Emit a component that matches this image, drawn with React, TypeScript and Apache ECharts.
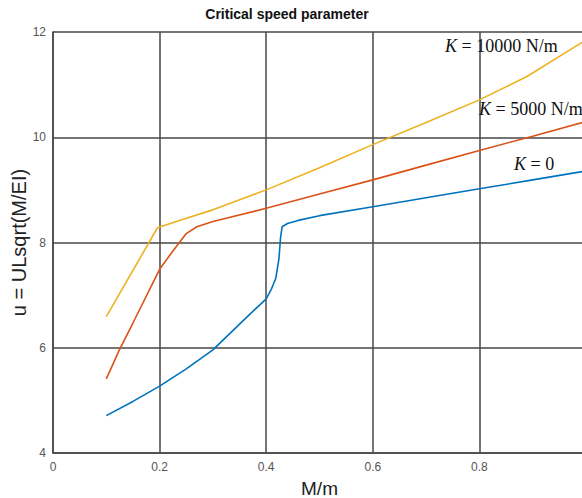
import React, { useEffect, useRef } from "react";
import * as echarts from "echarts";

// M/m values and critical speed parameter u for each stiffness K
const xK0 = [0.1, 0.15, 0.2, 0.25, 0.3, 0.35, 0.4, 0.41, 0.418, 0.424, 0.427, 0.43, 0.44, 0.46, 0.5, 0.6, 0.7, 0.8, 0.9, 1.0];
const yK0 = [4.71, 4.98, 5.27, 5.6, 5.96, 6.45, 6.93, 7.12, 7.32, 7.7, 8.1, 8.3, 8.36, 8.42, 8.51, 8.68, 8.85, 9.02, 9.19, 9.36];

const xK5000 = [0.1, 0.125, 0.15, 0.2, 0.225, 0.25, 0.27, 0.3, 0.4, 0.5, 0.6, 0.7, 0.8, 0.9, 1.0];
const yK5000 = [5.41, 5.97, 6.47, 7.49, 7.84, 8.17, 8.3, 8.4, 8.65, 8.92, 9.19, 9.47, 9.75, 10.02, 10.3];

const xK10000 = [0.1, 0.196, 0.25, 0.3, 0.4, 0.5, 0.6, 0.7, 0.8, 0.89, 1.0];
const yK10000 = [6.59, 8.28, 8.46, 8.62, 9.0, 9.42, 9.86, 10.28, 10.71, 11.16, 11.85];

const seriesNames = ["K = 0", "K = 5000 N/m", "K = 10000 N/m"];
const seriesColors = ["#0072BD", "#D95319", "#EDB120"];

const titleText = "Critical speed parameter";
const xName = "M/m";
const yName = "u = ULsqrt(M/EI)";

const zip = (xs: number[], ys: number[]) => xs.map((x, i) => [x, ys[i]]);

export default function App() {
  const ref = useRef<HTMLDivElement>(null);
  useEffect(() => {
    if (!ref.current) return;
    const chart = echarts.init(ref.current, null, { renderer: "svg" });
    const gridColor = "#474747";
    const serif = "'Liberation Serif', 'Times New Roman', serif";
    const sans = "'Liberation Sans', Arial, sans-serif";
    const annot = (main: string, x: number, y: number) => ({
      type: "text",
      x,
      y,
      z: 100,
      style: {
        text: "{i|K}" + main,
        fontFamily: serif,
        fontSize: 18,
        fill: "#111",
        verticalAlign: "middle",
        align: "left",
        rich: {
          i: { fontStyle: "italic", fontFamily: serif, fontSize: 18, fill: "#111" },
        },
      },
    });
    chart.setOption({
      animation: false,
      backgroundColor: "#ffffff",
      grid: { left: 53, top: 32, right: -4, bottom: 45, containLabel: false, outerBoundsMode: "none" },
      xAxis: {
        type: "value",
        min: 0,
        max: 1,
        interval: 0.2,
        name: xName,
        nameLocation: "middle",
        nameGap: 26,
        nameMoveOverlap: false,
        nameTextStyle: { fontSize: 19, color: "#222", fontFamily: sans },
        axisLine: { show: true, lineStyle: { color: gridColor, width: 1.5 } },
        axisTick: { show: false },
        axisLabel: {
          showMaxLabel: false,
          margin: 8,
          fontSize: 12,
          color: "#555",
          fontFamily: sans,
        },
        splitLine: { show: true, lineStyle: { color: gridColor, width: 1.5 } },
      },
      yAxis: {
        type: "value",
        min: 4,
        max: 12,
        interval: 2,
        name: yName,
        nameLocation: "middle",
        nameRotate: 90,
        nameGap: 24,
        nameMoveOverlap: false,
        nameTextStyle: { fontSize: 20, color: "#222", fontFamily: sans },
        axisLine: { show: true, lineStyle: { color: gridColor, width: 1.5 } },
        axisTick: { show: false },
        axisLabel: {
          margin: 7,
          fontSize: 12,
          color: "#555",
          fontFamily: sans,
        },
        splitLine: { show: true, lineStyle: { color: gridColor, width: 1.5 } },
      },
      series: [
        { name: seriesNames[0], data: zip(xK0, yK0) },
        { name: seriesNames[1], data: zip(xK5000, yK5000) },
        { name: seriesNames[2], data: zip(xK10000, yK10000) },
      ].map((s, i) => ({
        ...s,
        type: "line",
        showSymbol: false,
        symbol: "none",
        clip: true,
        lineStyle: { color: seriesColors[i], width: 1.6 },
        itemStyle: { color: seriesColors[i] },
      })),
      graphic: [
        {
          type: "text",
          x: 287,
          y: 14,
          style: {
            text: titleText,
            fontFamily: sans,
            fontSize: 14,
            fontWeight: "bold",
            fill: "#111",
            align: "center",
            verticalAlign: "middle",
          },
        },
        annot(" = 10000 N/m", 445, 46),
        annot(" = 5000 N/m", 479, 109),
        annot(" = 0", 514, 164),
      ],
    });
    return () => chart.dispose();
  }, []);
  return (
    <div
      ref={ref}
      style={{ position: "fixed", left: 0, top: 0, width: 582, height: 498, background: "#fff" }}
    />
  );
}
